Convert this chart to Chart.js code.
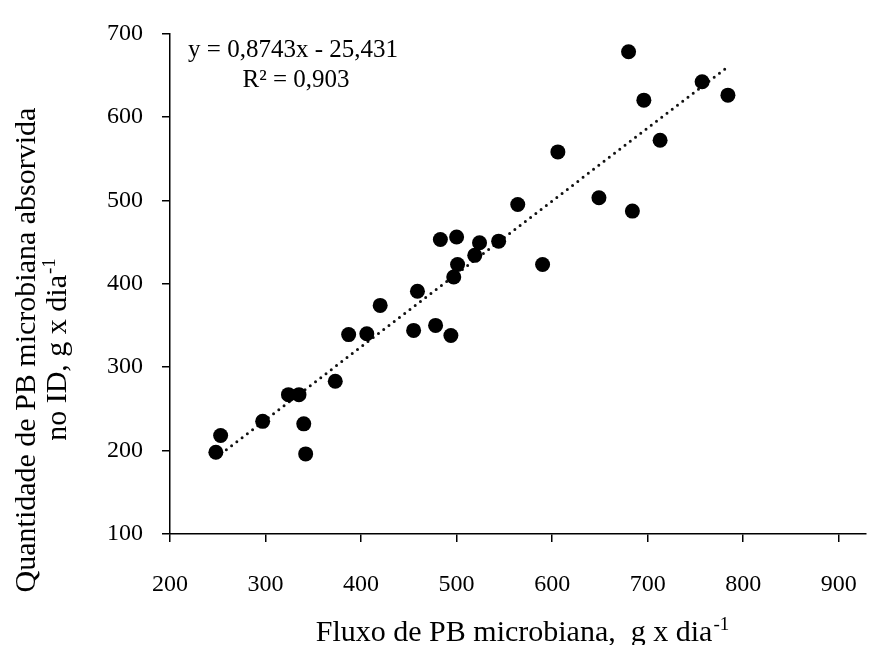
<!DOCTYPE html>
<html>
<head>
<meta charset="utf-8">
<script src="https://cdn.jsdelivr.net/npm/chart.js@4.4.1/dist/chart.umd.min.js"></script>
<style>
    html, body { margin: 0; padding: 0; background: #ffffff; }
    #wrap { width: 873px; height: 645px; }
</style>
</head>
<body>
<div id="wrap"><canvas id="chart" width="873" height="645"></canvas></div>
<script>
// Fluxo de PB microbiana (x) e quantidade absorvida no ID (y), g x dia-1
const fluxoPB = [248, 253, 297, 324, 335, 340, 342, 373, 387, 406, 420, 455, 459, 478, 494, 483,
                 500, 497, 501, 519, 524, 544, 590, 564, 606, 649, 684, 680, 696, 713, 757, 784];
const absorvidaPB = [198, 218, 235, 267, 267, 232, 196, 283, 339, 340, 374, 344, 391, 350, 338, 453,
                     456, 408, 423, 434, 449, 451, 423, 495, 558, 503, 487, 678, 620, 572, 642, 626];

const trendSlope = 0.8743;
const trendIntercept = -25.431;
const equationLines = ["y = 0,8743x - 25,431", "R\u00b2 = 0,903"];

const xTicks = [200, 300, 400, 500, 600, 700, 800, 900];
const yTicks = [100, 200, 300, 400, 500, 600, 700];

const xTitle = "Fluxo de PB microbiana,  g x dia";
const yTitleLines = ["Quantidade de PB microbiana absorvida", "no ID, g x dia"];
const unitSup = "-1";

const SERIF = '"Liberation Serif", "Times New Roman", serif';

/* -------------------- DATA -------------------- */
const points = fluxoPB.map((x, i) => ({ x: x, y: absorvidaPB[i] }));
const xMin = Math.min(...fluxoPB);
const xMax = Math.max(...fluxoPB);
const trendPoints = [xMin, xMax].map(x => ({ x: x, y: trendSlope * x + trendIntercept }));

/* -------------------- TEXT HELPERS -------------------- */
function drawWithSup(ctx, text, sup, cx, baseY, size) {
    ctx.font = size + "px " + SERIF;
    const mainW = ctx.measureText(text).width;
    ctx.font = Math.round(size * 0.62) + "px " + SERIF;
    const supW = ctx.measureText(sup).width;
    let x0 = cx - (mainW + supW) / 2;
    ctx.textAlign = "left";
    ctx.font = size + "px " + SERIF;
    ctx.fillText(text, x0, baseY);
    ctx.font = Math.round(size * 0.62) + "px " + SERIF;
    ctx.fillText(sup, x0 + mainW + 1, baseY - size * 0.36);
}

const textPlugin = {
    id: "textos",
    afterDraw(chart) {
        const ctx = chart.ctx;
        ctx.save();
        ctx.fillStyle = "#000";
        ctx.textBaseline = "alphabetic";

        // equation of the trend line
        ctx.font = "25px " + SERIF;
        ctx.textAlign = "center";
        ctx.fillText(equationLines[0], 293, 57);
        ctx.fillText(equationLines[1], 296, 87);

        // x title
        drawWithSup(ctx, xTitle, unitSup, 522, 641, 30);

        // y title (two lines, rotated)
        ctx.translate(0, 350);
        ctx.rotate(-Math.PI / 2);
        ctx.font = "30px " + SERIF;
        ctx.textAlign = "center";
        ctx.fillText(yTitleLines[0], 0, 35);
        drawWithSup(ctx, yTitleLines[1], unitSup, 0, 66, 30);
        ctx.restore();
    }
};

/* -------------------- CHART -------------------- */
new Chart(document.getElementById("chart"), {
    type: "scatter",
    data: {
        datasets: [
            {
                data: points,
                backgroundColor: "#000",
                borderColor: "#000",
                pointRadius: 7.5,
                pointHoverRadius: 7.5,
                borderWidth: 0
            },
            {
                type: "line",
                data: trendPoints,
                borderColor: "#111",
                borderWidth: 3,
                borderDash: [0, 6.6],
                borderCapStyle: "round",
                pointRadius: 0,
                fill: false
            }
        ]
    },
    options: {
        responsive: false,
        animation: false,
        layout: { padding: { top: 30, right: 0, left: 0, bottom: 0 } },
        plugins: { legend: { display: false }, tooltip: { enabled: false } },
        scales: {
            x: {
                type: "linear",
                min: 200,
                max: 928,
                afterFit: s => { s.height = 111; s.paddingRight = 0; },
                afterBuildTicks: s => { s.ticks = xTicks.map(v => ({ value: v })); },
                border: { color: "#000", width: 1.5 },
                grid: { drawOnChartArea: false, drawTicks: true, tickLength: 8, color: "#000", lineWidth: 1.5 },
                ticks: { color: "#000", padding: 28, font: { family: SERIF, size: 24 } }
            },
            y: {
                type: "linear",
                min: 100,
                max: 700,
                afterFit: s => { s.width = 170; },
                afterBuildTicks: s => { s.ticks = yTicks.map(v => ({ value: v })); },
                border: { color: "#000", width: 1.5 },
                grid: { drawOnChartArea: false, drawTicks: true, tickLength: 8, color: "#000", lineWidth: 1.5 },
                ticks: { color: "#000", padding: 19, font: { family: SERIF, size: 24 } }
            }
        }
    },
    plugins: [textPlugin]
});
</script>
</body>
</html>
